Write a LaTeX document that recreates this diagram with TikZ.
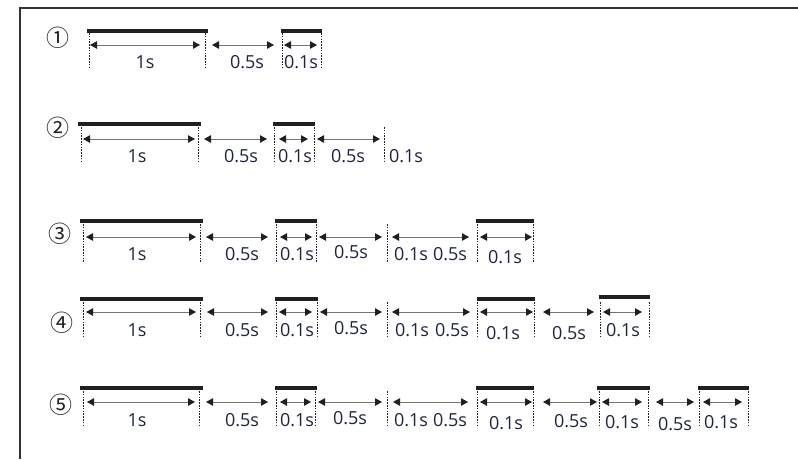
\documentclass[tikz,border=0pt]{standalone}
\usepackage{fontspec}
\setmainfont{Open Sans}
\newfontfamily\symfont{Noto Sans CJK SC}
\usetikzlibrary{arrows.meta}
\definecolor{ink}{RGB}{35,31,32}
\definecolor{txt}{RGB}{30,36,60}
\definecolor{frame}{RGB}{50,50,50}
\newcounter{lc}
\newcommand\tbar[3]{\draw[tbarstyle] (#1,#3) -- (#2,#3);}
\newcommand\darr[3]{\draw[dimarr] (#1,#3) -- (#2,#3);}
\newcommand\gline[3]{\draw[guide] (#1,#2) -- (#1,#3);}
\newcommand\lab[3]{\stepcounter{lc}\node[lbl] (lab\arabic{lc}) at (#1,#2) {#3};}
\tikzset{
  tbarstyle/.style={draw=ink, line width=4.5pt},
  dimarr/.style={draw=black!55, line width=1pt,
    {Triangle[length=7pt,width=7.5pt,color=ink]}-{Triangle[length=7pt,width=7.5pt,color=ink]}},
  guide/.style={draw=ink, line width=0.9pt, dash pattern=on 1.6pt off 1.2pt},
  lbl/.style={inner sep=0pt, text=txt, font=\fontsize{18}{20}\selectfont},
  num/.style={inner sep=0pt, text=ink, font=\symfont\fontsize{23}{25}\selectfont},
  frameline/.style={draw=frame, line width=2pt}
}
\begin{document}
\begin{tikzpicture}[x=1pt,y=-1pt]
\useasboundingbox (0,0) rectangle (798,459);
\fill[white] (0,0) rectangle (798,459);
\draw[frameline] (20,459) -- (20,8) -- (798,8);

% ---------- Row 1 ----------
\node[num] (n1) at (58,38) {①};
\tbar{87}{208}{31}
\tbar{281}{322}{31}
\foreach \x in {89,205,282,321} {\gline{\x}{33}{68}}
\darr{90}{200}{45}
\darr{212}{274}{45}
\darr{284}{317}{45}
\lab{145}{62}{1s}
\lab{247}{62}{0.5s}
\lab{301}{62}{0.1s}

% ---------- Row 2 ----------
\node[num] (n2) at (58,128) {②};
\tbar{78}{201}{124}
\tbar{273}{315}{124}
\foreach \x in {81,198,274,314,384} {\gline{\x}{127}{162}}
\darr{83}{195}{139}
\darr{204}{267}{139}
\darr{279}{308}{139}
\darr{317}{380}{139}
\lab{137}{156}{1s}
\lab{241}{156}{0.5s}
\lab{295}{156}{0.1s}
\lab{348}{156}{0.5s}
\lab{406}{156}{0.1s}

% ---------- Row 3 ----------
\node[num] (n3) at (60,234) {③};
\tbar{80}{203}{221}
\tbar{275}{317}{221}
\tbar{476}{534}{221}
\foreach \x in {83,200,276,316,387,477,533} {\gline{\x}{224}{263}}
\darr{86}{196}{237}
\darr{206}{268}{237}
\darr{280}{312}{237}
\darr{319}{382}{237}
\darr{392}{469}{237}
\darr{480}{532}{237}
\lab{137}{254}{1s}
\lab{242}{254}{0.5s}
\lab{297}{254}{0.1s}
\lab{351}{252}{0.5s}
\lab{411}{254}{0.1s}
\lab{450}{254}{0.5s}
\lab{505}{257}{0.1s}

% ---------- Row 4 ----------
\node[num] (n4) at (62,323) {④};
\tbar{80}{203}{299}
\tbar{275}{318}{299}
\tbar{477}{535}{299}
\tbar{599}{650}{297}
\foreach \x in {83,200,276,317,387,477,534,600,649} {\gline{\x}{302}{337}}
\darr{86}{196}{312}
\darr{207}{268}{312}
\darr{279}{312}{312}
\darr{320}{382}{312}
\darr{392}{470}{312}
\darr{480}{533}{312}
\darr{543}{594}{312}
\darr{603}{642}{312}
\lab{137}{330}{1s}
\lab{242}{330}{0.5s}
\lab{297}{330}{0.1s}
\lab{351}{328}{0.5s}
\lab{412}{330}{0.1s}
\lab{452}{330}{0.5s}
\lab{503}{333}{0.1s}
\lab{569}{333}{0.5s}
\lab{623}{330}{0.1s}

% ---------- Row 5 ----------
\node[num] (n5) at (61,405) {⑤};
\tbar{80}{203}{388}
\tbar{275}{317}{388}
\tbar{476}{534}{388}
\tbar{597}{650}{388}
\tbar{698}{749}{388}
\foreach \x in {83,199,276,315,387,477,533,599,648,699,748} {\gline{\x}{391}{427}}
\darr{87}{195}{402}
\darr{206}{268}{402}
\darr{280}{311}{402}
\darr{318}{382}{402}
\darr{393}{468}{402}
\darr{480}{532}{402}
\darr{543}{597}{402}
\darr{602}{642}{402}
\darr{656}{694}{402}
\darr{703}{742}{402}
\lab{137}{420}{1s}
\lab{242}{420}{0.5s}
\lab{297}{420}{0.1s}
\lab{350}{418}{0.5s}
\lab{411}{420}{0.1s}
\lab{450}{420}{0.5s}
\lab{506}{423}{0.1s}
\lab{571}{421}{0.5s}
\lab{622}{422}{0.1s}
\lab{675}{424}{0.5s}
\lab{721}{422}{0.1s}
\end{tikzpicture}
\end{document}
